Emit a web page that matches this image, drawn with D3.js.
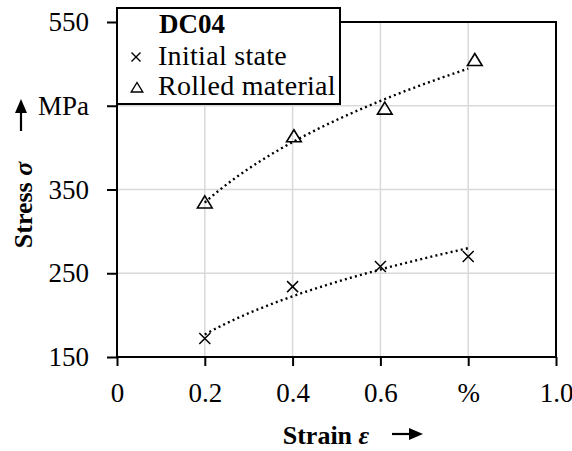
<!DOCTYPE html>
<html><head><meta charset="utf-8">
<script src="https://cdn.jsdelivr.net/npm/d3@7"></script>
<style>
body{margin:0;background:#fff;}
svg{display:block;font-family:"Liberation Serif","DejaVu Serif",serif;}
</style></head>
<body><div id="chart"></div>
<script>
// ---- data ----
const xTicks = [0, 0.2, 0.4, 0.6, 0.8, 1.0];
const xTickLabels = ["0", "0.2", "0.4", "0.6", "%", "1.0"];
const yTicks = [150, 250, 350, 450, 550];
const yTickLabels = ["150", "250", "350", "MPa", "550"];
const legendTitle = "DC04";
const seriesNames = ["Initial state", "Rolled material"];
const initialX = [0.2, 0.4, 0.6, 0.8];
const initialY = [172, 234, 258, 270];
const rolledX = [0.2, 0.403, 0.61, 0.815];
const rolledY = [334, 413, 446, 504];
const trendRange = [0.2, 0.8];

const W = 572, H = 451;
const svg = d3.select("#chart").append("svg").attr("width", W).attr("height", H);
const x = d3.scaleLinear().domain([0, 1]).range([117, 556]);
const y = d3.scaleLinear().domain([150, 550]).range([357, 22]);

// grid
const gridColor = "#d9d9d9";
svg.append("g").selectAll("line").data(xTicks.filter(d => d > 0 && d < 1)).join("line")
  .attr("x1", d => x(d)).attr("x2", d => x(d)).attr("y1", y(550)).attr("y2", y(150))
  .attr("stroke", gridColor).attr("stroke-width", 1.5);
svg.append("g").selectAll("line").data(yTicks.filter(d => d > 150 && d < 550)).join("line")
  .attr("x1", x(0)).attr("x2", x(1)).attr("y1", d => y(d)).attr("y2", d => y(d))
  .attr("stroke", gridColor).attr("stroke-width", 1.5);

// power-law trend lines fitted to data (log-log least squares)
function powerFit(xs, ys) {
  const lx = xs.map(Math.log), ly = ys.map(Math.log);
  const mx = d3.mean(lx), my = d3.mean(ly);
  let sxy = 0, sxx = 0;
  lx.forEach((v, i) => { sxy += (v - mx) * (ly[i] - my); sxx += (v - mx) * (v - mx); });
  const b = sxy / sxx, a = Math.exp(my - b * mx);
  return t => a * Math.pow(t, b);
}
const line = d3.line().x(d => x(d[0])).y(d => y(d[1]));
[[initialX, initialY], [rolledX, rolledY]].forEach(([xs, ys]) => {
  const f = powerFit(xs, ys);
  const pts = d3.range(0, 61).map(i => {
    const t = trendRange[0] + (trendRange[1] - trendRange[0]) * i / 60;
    return [t, f(t)];
  });
  svg.append("path").attr("d", line(pts)).attr("fill", "none")
    .attr("stroke", "#000").attr("stroke-width", 2.4).attr("stroke-dasharray", "2,3.2");
});

// markers
function cross(s) { return `M${-s},${-s}L${s},${s}M${-s},${s}L${s},${-s}`; }
function tri(s) { return `M0,${-s}L${s * 1.05},${s * 0.72}L${-s * 1.05},${s * 0.72}Z`; }
svg.append("g").selectAll("path").data(initialX.map((d, i) => [d, initialY[i]])).join("path")
  .attr("transform", d => `translate(${x(d[0])},${y(d[1])})`)
  .attr("d", cross(5.5)).attr("stroke", "#000").attr("stroke-width", 1.5).attr("fill", "none");
svg.append("g").selectAll("path").data(rolledX.map((d, i) => [d, rolledY[i]])).join("path")
  .attr("transform", d => `translate(${x(d[0])},${y(d[1])})`)
  .attr("d", tri(7)).attr("stroke", "#000").attr("stroke-width", 1.6).attr("fill", "none");

// frame
svg.append("rect").attr("x", x(0)).attr("y", y(550)).attr("width", x(1) - x(0)).attr("height", y(150) - y(550))
  .attr("fill", "none").attr("stroke", "#000").attr("stroke-width", 2);

// axes
const ax = svg.append("g").attr("transform", `translate(0,${y(150)})`)
  .call(d3.axisBottom(x).tickValues(xTicks).tickFormat((d, i) => xTickLabels[i]).tickSize(9).tickPadding(17));
const ay = svg.append("g").attr("transform", `translate(${x(0)},0)`)
  .call(d3.axisLeft(y).tickValues(yTicks).tickFormat((d, i) => yTickLabels[i]).tickSize(10).tickPadding(18));
[ax, ay].forEach(g => {
  g.select(".domain").remove();
  g.selectAll(".tick line").attr("stroke", "#000").attr("stroke-width", 2);
  g.selectAll(".tick text").attr("font-family", "Liberation Serif, serif").attr("font-size", 27).attr("fill", "#000");
});

// y unit arrow
svg.append("line").attr("x1", 21).attr("x2", 21).attr("y1", 131).attr("y2", 110).attr("stroke", "#000").attr("stroke-width", 2.2);
svg.append("path").attr("d", "M21,99L27,113L15,113Z").attr("fill", "#000");

// axis titles
const yt = svg.append("text").attr("transform", "translate(32,205) rotate(-90)")
  .attr("text-anchor", "middle").attr("font-size", 26).attr("font-weight", "bold");
yt.append("tspan").text("Stress ");
yt.append("tspan").attr("font-style", "italic").text("σ");

const xt = svg.append("text").attr("x", 326).attr("y", 444)
  .attr("text-anchor", "middle").attr("font-size", 26).attr("font-weight", "bold");
xt.append("tspan").text("Strain ");
xt.append("tspan").attr("font-style", "italic").text("ε");
svg.append("line").attr("x1", 392).attr("x2", 411).attr("y1", 434).attr("y2", 434).attr("stroke", "#000").attr("stroke-width", 2.2);
svg.append("path").attr("d", "M423,434L409,428L409,440Z").attr("fill", "#000");

// legend
const lg = svg.append("g");
lg.append("rect").attr("x", 117).attr("y", 8).attr("width", 223).attr("height", 96)
  .attr("fill", "#fff").attr("stroke", "#000").attr("stroke-width", 2);
lg.append("text").attr("x", 159).attr("y", 33).attr("font-size", 27).attr("font-weight", "bold").text(legendTitle);
lg.append("path").attr("transform", "translate(136,57)").attr("d", cross(4.5))
  .attr("stroke", "#000").attr("stroke-width", 1.4).attr("fill", "none");
lg.append("path").attr("transform", "translate(137,88)").attr("d", tri(5.5))
  .attr("stroke", "#000").attr("stroke-width", 1.4).attr("fill", "none");
seriesNames.forEach((n, i) => {
  lg.append("text").attr("x", 158).attr("y", 65 + i * 30).attr("font-size", 28)
    .attr("letter-spacing", 0.3).text(n);
});
</script></body></html>
